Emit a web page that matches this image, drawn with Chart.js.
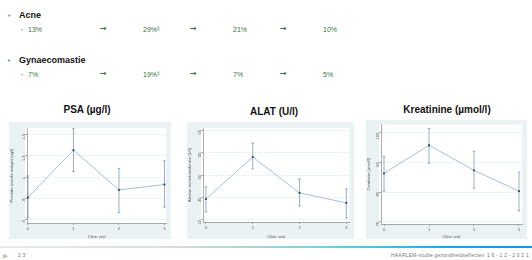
<!DOCTYPE html>
<html><head><meta charset="utf-8">
<script src="https://cdn.jsdelivr.net/npm/chart.js@4.4.0/dist/chart.umd.min.js"></script>
<style>
html,body{margin:0;padding:0;width:532px;height:260px;overflow:hidden;background:#fff;font-family:"Liberation Sans",Arial,sans-serif;}
.abs{position:absolute;white-space:nowrap;line-height:1;}
.hd{font-weight:bold;font-size:9px;color:#111;}
.bul{color:#8fae94;font-size:6px;}
.sbul{color:#b8c4b8;font-size:5px;}
.val{color:#357540;font-size:7px;}
.arr{color:#357540;font-size:8px;font-weight:bold;font-family:"DejaVu Sans",sans-serif;}
.val sup{font-size:5px;vertical-align:2px;}
.title{font-weight:bold;font-size:10px;color:#111;transform:translateX(-50%);}
canvas{position:absolute;}
.foot{color:#777;font-size:5px;letter-spacing:0.2px;}
</style></head><body>
<div id="root"></div>
<script>
// ---- data ----
const visits = [0, 1, 2, 3];
const visitLabels = ['0', '1', '2', '3'];

const psaMean = [0.81, 1.25, 0.88, 0.93];
const psaLow  = [0.62, 1.05, 0.67, 0.72];
const psaHigh = [1.01, 1.45, 1.08, 1.15];
const psaTicks = [0.6, 0.8, 1.0, 1.2, 1.4];
const psaTickLabels = ['.6', '.8', '1', '1.2', '1.4'];

const alatMean = [19.3, 38.0, 22.0, 17.6];
const alatLow  = [13.6, 32.7, 16.2, 10.9];
const alatHigh = [24.7, 44.2, 28.2, 23.8];
const alatTicks = [10, 20, 30, 40, 50];
const alatTickLabels = ['10', '20', '30', '40', '50'];

const kreaMean = [86.3, 95.7, 87.3, 80.3];
const kreaLow  = [80.3, 89.7, 81.3, 73.7];
const kreaHigh = [92.0, 101.3, 93.7, 86.7];
const kreaTicks = [70, 80, 90, 100];
const kreaTickLabels = ['70', '80', '90', '100'];

const acneValues = ['13%', '29%', '21%', '10%'];
const acneMarks  = ['', '‡', '', ''];
const gynValues  = ['7%', '19%', '7%', '5%'];
const gynMarks   = ['', '‡', '', ''];

// ---- text part ----
const root = document.getElementById('root');
function add(html, cls, x, y) {
  const d = document.createElement('div');
  d.className = 'abs ' + cls;
  d.style.left = x + 'px'; d.style.top = y + 'px';
  d.innerHTML = html; root.appendChild(d); return d;
}
const valX = [28, 143, 233, 323];
const arrX = [100, 190, 280];
function section(name, vals, marks, yHead, yVals) {
  add('&#9656;', 'bul', 8, yHead - 3);
  add(name, 'hd', 19, yHead - 4);
  add('&#9656;', 'sbul', 21, yVals - 3);
  vals.forEach((v, i) => add(v + (marks[i] ? '<sup>' + marks[i] + '</sup>' : ''), 'val', valX[i], yVals - 4));
  arrX.forEach(x => add('&#8594;', 'arr', x, yVals - 5));
}
section('Acne', acneValues, acneMarks, 15, 30);
section('Gynaecomastie', gynValues, gynMarks, 60, 75);

add('PSA (&micro;g/l)', 'title', 87, 105);
add('ALAT (U/l)', 'title', 274, 107);
add('Kreatinine (&micro;mol/l)', 'title', 447, 105);

// footer
const line = document.createElement('div');
line.style.cssText = 'position:absolute;left:0;top:246px;width:532px;height:2px;background:linear-gradient(to right,#e6ece6 0%,#d3e3dc 30%,#7fcde2 60%,#18a6e2 85%,#0b9be6 100%);';
root.appendChild(line);
add('&#9654;', 'foot', 3, 252).style.cssText += 'color:#b9ccb4;font-size:7px;';
add('2 3', 'foot', 18, 253);
add('HAARLEM-studie gezondheidseffecten', 'foot', 391, 253);
add('1 6 - 1 2 - 2 0 2 1', 'foot', 487, 253);

// ---- charts ----
const bgPlugin = {
  id: 'bg',
  beforeDraw(chart) {
    const c = chart.ctx, a = chart.chartArea;
    c.save();
    c.fillStyle = '#eaf2f3';
    c.fillRect(0, 0, chart.width, chart.height);
    c.fillStyle = '#ffffff';
    c.fillRect(a.left - 2, a.top, a.right - a.left + 2, a.bottom - a.top);
    c.restore();
  }
};

function makeChart(g) {
  const cv = document.createElement('canvas');
  cv.width = g.w; cv.height = g.h;
  cv.style.left = g.x + 'px'; cv.style.top = g.y + 'px';
  root.appendChild(cv);
  const errSets = visits.map((v, i) => ({
    data: [{x: v, y: g.low[i]}, {x: v, y: g.high[i]}],
    borderColor: '#6a8db0', borderWidth: 0.7,
    pointStyle: 'line', pointRadius: 1.3, pointBorderColor: '#6a8db0', pointBorderWidth: 0.7,
    clip: false, order: 2
  }));
  const meanSet = {
    data: visits.map((v, i) => ({x: v, y: g.mean[i]})),
    borderColor: '#aabfd5', borderWidth: 1, tension: 0,
    pointStyle: 'rect', pointRadius: 1.3, pointBackgroundColor: '#1a476f', pointBorderColor: '#1a476f', pointBorderWidth: 0,
    clip: false, order: 1
  };
  const tickFont = {size: 4, family: 'Liberation Sans'};
  new Chart(cv, {
    type: 'line',
    data: {datasets: [meanSet, ...errSets]},
    plugins: [bgPlugin],
    options: {
      responsive: false, animation: false, devicePixelRatio: 1,
      layout: {padding: {top: g.padTop, right: g.padRight, left: 0, bottom: 0}},
      plugins: {legend: {display: false}, tooltip: {enabled: false}},
      scales: {
        x: {
          type: 'linear', min: g.xmin, max: g.xmax,
          afterBuildTicks: s => { s.ticks = visits.map(v => ({value: v})); },
          ticks: {font: tickFont, color: '#555', padding: 1, maxRotation: 0, autoSkip: false,
                  callback: (v) => visitLabels[visits.indexOf(v)]},
          grid: {drawOnChartArea: false, tickColor: '#777', tickLength: 2, tickWidth: 0.6},
          border: {color: '#777', width: 0.6},
          title: {display: true, text: 'Clinic visit', font: tickFont, color: '#555', padding: {top: 1, bottom: 0}},
          afterFit: s => { s.height = g.xh; }
        },
        y: {
          type: 'linear', min: g.ymin, max: g.ymax,
          afterBuildTicks: s => { s.ticks = g.ticks.map(v => ({value: v})); },
          ticks: {font: tickFont, color: '#555', padding: 1, minRotation: 90, maxRotation: 90, autoSkip: false,
                  callback: (v) => g.tickLabels[g.ticks.indexOf(v)]},
          grid: {color: '#eaf2f3', lineWidth: 0.8, tickColor: '#777', tickLength: 2, tickWidth: 0.6},
          border: {color: '#777', width: 0.6},
          title: {display: true, text: g.ytitle, font: tickFont, color: '#555', padding: 0},
          afterFit: s => { s.width = g.yw; }
        }
      }
    }
  });
}

makeChart({x: 9, y: 122, w: 162, h: 117, padTop: 6, padRight: 4, yw: 18, xh: 16,
  xmin: -0.02, xmax: 3.04, ymin: 0.572, ymax: 1.456,
  mean: psaMean, low: psaLow, high: psaHigh, ticks: psaTicks, tickLabels: psaTickLabels,
  ytitle: 'Prostate specific antigen (\u00b5g/l)'});
makeChart({x: 187, y: 122, w: 167, h: 117, padTop: 6, padRight: 3, yw: 16, xh: 17,
  xmin: -0.063, xmax: 3.063, ymin: 9.1, ymax: 50.9,
  mean: alatMean, low: alatLow, high: alatHigh, ticks: alatTicks, tickLabels: alatTickLabels,
  ytitle: 'Alanine aminotransferase (U/l)'});
makeChart({x: 366, y: 120, w: 161, h: 119, padTop: 3, padRight: 5, yw: 15, xh: 15,
  xmin: -0.067, xmax: 3.067, ymin: 69.3, ymax: 102.6,
  mean: kreaMean, low: kreaLow, high: kreaHigh, ticks: kreaTicks, tickLabels: kreaTickLabels,
  ytitle: 'Creatinine (\u00b5mol/l)'});
</script>
</body></html>
